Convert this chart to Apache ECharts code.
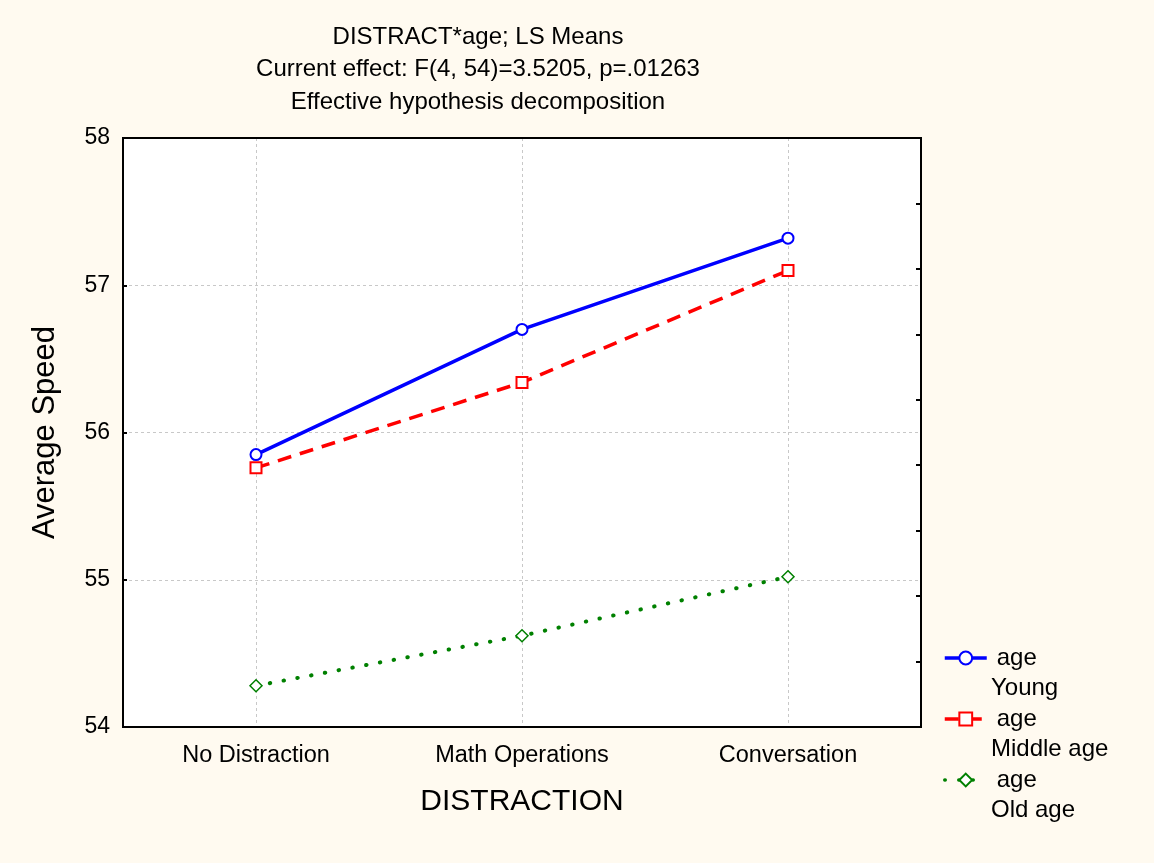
<!DOCTYPE html>
<html>
<head>
<meta charset="utf-8">
<script src="https://cdn.jsdelivr.net/npm/echarts@6/dist/echarts.min.js"></script>
<style>
html,body{margin:0;padding:0;background:#FFFAF0;}
#c{width:1154px;height:863px;}
</style>
</head>
<body>
<div id="c"></div>
<script>
const categories = ['No Distraction', 'Math Operations', 'Conversation'];
const groupNames = ['Young', 'Middle age', 'Old age'];
const young = [55.85, 56.70, 57.32];
const middle = [55.76, 56.34, 57.10];
const old = [54.28, 54.62, 55.02];
const yTicks = [54, 55, 56, 57, 58];

const FONT = '"Liberation Sans", Arial, sans-serif';
const chart = echarts.init(document.getElementById('c'));

const legendTop = 641;
const legendStep = 61;

chart.setOption({
  backgroundColor: '#FFFAF0',
  animation: false,
  title: {
    text: 'DISTRACT*age; LS Means\nCurrent effect: F(4, 54)=3.5205, p=.01263\nEffective hypothesis decomposition',
    left: 473, top: 16, textAlign: 'center',
    textStyle: { fontFamily: FONT, fontSize: 24, fontWeight: 'normal', color: '#000', lineHeight: 32.5 }
  },
  grid: {
    left: 123, top: 138, right: 233, bottom: 136,
    show: true, backgroundColor: '#fff', borderColor: '#000', borderWidth: 2
  },
  legend: {
    orient: 'vertical', left: 938, top: legendTop,
    itemWidth: 42, itemHeight: 16, itemGap: 37,
    data: groupNames,
    formatter: () => 'age',
    lineStyle: { width: 3.5 },
    textStyle: { fontFamily: FONT, fontSize: 24, color: '#000', padding: [0, 0, 0, 5] }
  },
  graphic: groupNames.map((n, i) => ({
    type: 'text', left: 991, top: 676 + i * legendStep,
    style: { text: n, font: '24px ' + FONT, fill: '#000' }
  })),
  xAxis: [{
    type: 'category', data: categories, position: 'bottom',
    name: 'DISTRACTION', nameLocation: 'middle', nameGap: 60,
    nameTextStyle: { fontFamily: FONT, fontSize: 30, color: '#000' },
    axisLine: { lineStyle: { color: '#000', width: 2 } },
    axisTick: { inside: true, alignWithLabel: true, length: 5, lineStyle: { color: '#000', width: 2 } },
    axisLabel: { fontFamily: FONT, fontSize: 23.5, color: '#000', margin: 17 },
    splitLine: { show: true, alignWithLabel: true, lineStyle: { color: '#c8c8c8', type: [3, 3], width: 1 } }
  }, {
    type: 'category', data: categories, position: 'top',
    axisLine: { lineStyle: { color: '#000', width: 2 } },
    axisTick: { inside: true, alignWithLabel: true, length: 5, lineStyle: { color: '#000', width: 2 } },
    axisLabel: { show: false }, splitLine: { show: false }
  }],
  yAxis: [{
    type: 'value', min: yTicks[0], max: yTicks[yTicks.length - 1], interval: 1,
    name: 'Average Speed', nameLocation: 'middle', nameGap: 62,
    nameTextStyle: { fontFamily: FONT, fontSize: 31, color: '#000' },
    axisLine: { show: true, lineStyle: { color: '#000', width: 2 } },
    axisTick: { show: true, inside: true, length: 4, lineStyle: { color: '#000', width: 2 } },
    axisLabel: { fontFamily: FONT, fontSize: 23, color: '#000', margin: 13 },
    splitLine: { show: true, lineStyle: { color: '#c8c8c8', type: [3, 3], width: 1 } }
  }, {
    type: 'value', position: 'right', min: 0, max: 9, interval: 1,
    axisLine: { show: true, lineStyle: { color: '#000', width: 2 } },
    axisTick: { show: true, inside: true, length: 5, lineStyle: { color: '#000', width: 2 } },
    axisLabel: { show: false }, splitLine: { show: false }
  }],
  series: [{
    name: groupNames[0], type: 'line', data: young,
    symbol: 'circle', symbolSize: 11,
    lineStyle: { color: '#0000FF', width: 3.5 },
    itemStyle: { color: '#fff', borderColor: '#0000FF', borderWidth: 2 }
  }, {
    name: groupNames[1], type: 'line', data: middle,
    symbol: 'rect', symbolSize: 11,
    lineStyle: { color: '#FF0000', width: 3.5, type: [14, 9] },
    itemStyle: { color: '#fff', borderColor: '#FF0000', borderWidth: 2 }
  }, {
    name: groupNames[2], type: 'line', data: old,
    symbol: 'diamond', symbolSize: 12,
    lineStyle: { color: '#008000', width: 4, type: [0.5, 13.5], cap: 'round' },
    itemStyle: { color: '#fff', borderColor: '#008000', borderWidth: 1.5 }
  }]
});
</script>
</body>
</html>
